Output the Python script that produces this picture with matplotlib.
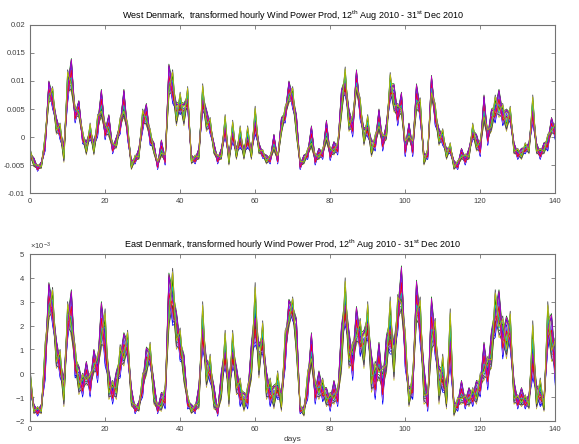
import numpy as np
import matplotlib
matplotlib.use("Agg")
import matplotlib.pyplot as plt
from matplotlib.ticker import FuncFormatter, ScalarFormatter

plt.rcParams['font.family'] = ['Liberation Sans Narrow', 'Liberation Sans', 'DejaVu Sans']
plt.rcParams['mathtext.fontset'] = 'custom'
plt.rcParams['mathtext.rm'] = 'Liberation Sans'

# centre of the band of hourly lines and its half width, read per day (x 1e-3)
west_mid = [-3, -4.5, -5.5, -5, -1, 8, 7, 2, 1, -3, 9, 11, 4, 5, 0, -2, 1, -2, 2, 6,
            1, 2, -2, -1, 2, 6, 1, -5, -4, -3, 3, 4, 0, -2, -5, -2, -4, 10, 9, 4,
            6, 4, 7, -4, -4, -3, 7, 3, 2, -2, -4, -3, 2, -4, 1, -3, 0, -3, 0, -3,
            3, -2, -3, -4, -4, -1, -4, 2, 4, 8, 7, 2, -5, -4, -3, 0, -4, -3, -3, 1,
            -3, -2, -2, 6, 10, 3, 2, 10, 5, 0, 2, -2, -1, 3, -1, 1, 9, 7, 4, 6,
            -2, 1, -2, 7, 5, -4, -3, 9, 4, 0, 0, -3, -2, -5, -5, -3, -4, -3, 1, -1,
            -2, 5, 0, 3, 5, 6, 4, 3, 4, -2, -3, -3, -2, -2, 5, -2, -3, -2, -1, 2, 1]
west_half = [1, 0.8, 0.6, 0.6, 1.5, 2, 2, 1.5, 1.5, 1.5, 3, 3, 1.5, 1.5, 1.2, 1.2, 1.5, 1.2, 2, 2.5,
             1.5, 2, 1, 1, 1.5, 2.5, 1.5, 0.8, 0.8, 1, 2, 2, 1.5, 1, 0.8, 1.5, 1, 3, 3, 2,
             2, 2, 2, 0.8, 0.8, 1, 2.5, 2, 1.5, 1, 0.8, 1, 2, 1, 2, 1, 2, 1, 2, 1,
             2.5, 1, 0.8, 0.8, 0.8, 1.5, 0.8, 1.5, 1.5, 2, 2, 2, 0.8, 0.8, 1, 2, 1, 1, 1, 2,
             1.2, 1.2, 1.2, 2.5, 2.5, 2, 2, 2, 2, 1.5, 2, 1.5, 1.5, 2, 1.5, 1.5, 2.5, 2.5, 2, 2,
             1.5, 1.5, 1.5, 2.5, 2, 1, 1, 2, 2, 1.5, 1.5, 1, 1, 0.8, 0.8, 1, 1, 1, 1.5, 1.5,
             1.5, 2.5, 1.5, 2, 2.5, 2.5, 2, 2, 1.5, 1, 1, 1, 1, 1, 2.5, 1, 1, 1, 1.5, 1.5, 1.5]

east_mid = [-0.3, -1.5, -1.6, -1.5, 0.5, 3.0, 2.8, 0.8, 0.4, -0.8, 2.2, 2.5, 0.5, -0.3, -0.5, 0, -0.5, 0.5, 0.2, 2.0,
            1.5, -0.5, -0.8, -0.5, 0.5, 1.0, 1.2, -1.0, -1.5, -1.4, -0.5, 0.5, 0.8, -0.8, -1.5, -1.2, -1.0, 3.0, 3.2, 1.8,
            1.2, 0.2, -1.2, -1.5, -1.5, -1.0, 2.0, 0.0, 0.2, -1.0, -1.6, -0.5, 1.0, -0.8, 1.0, -0.3, -0.8, -1.2, -1.0, 0.5,
            2.5, 0.5, 1.5, -0.5, -0.8, -1.0, -0.5, -1.2, 1.0, 2.5, 2.7, 1.5, -1.5, -1.6, -0.5, 1.0, -0.8, -0.5, -0.7, -1.0,
            -1.2, -0.8, -1.0, 1.0, 3.0, 1.0, 0.5, 2.0, 1.5, 1.0, 2.2, 0.0, -0.3, 0.5, -0.5, 0.8, 2.0, 0.5, 2.5, 3.5,
            1.0, -1.0, -0.5, 3.0, 2.2, -0.5, -1.2, 2.0, 1.5, -0.5, 0.0, -1.0, 1.5, -1.5, -1.3, -0.8, -1.2, -1.0, -1.0, -0.8,
            -0.5, 0.5, 0.0, 1.0, 2.5, 2.5, 1.5, 1.5, 1.8, -0.8, -1.2, -1.0, -1.2, -1.2, 1.0, -1.0, -0.8, -1.3, 2.0, 1.5, 0.5]
east_half = [0.5, 0.2, 0.2, 0.2, 0.8, 0.8, 0.8, 0.6, 0.6, 0.6, 0.8, 1.0, 0.7, 0.6, 0.5, 0.5, 0.5, 0.5, 0.6, 1.0,
             1.2, 0.6, 0.5, 0.6, 0.7, 0.7, 0.6, 0.4, 0.2, 0.2, 0.5, 0.6, 0.5, 0.5, 0.2, 0.4, 0.5, 1.2, 1.2, 0.8,
             0.7, 0.6, 0.3, 0.2, 0.2, 0.5, 1.0, 0.6, 0.6, 0.5, 0.2, 0.6, 0.8, 0.6, 0.8, 0.6, 0.6, 0.4, 0.5, 0.8,
             1.3, 0.7, 0.7, 0.6, 0.6, 0.5, 0.6, 0.4, 0.8, 0.6, 0.5, 0.8, 0.2, 0.2, 0.6, 0.7, 0.5, 0.6, 0.5, 0.4,
             0.4, 0.5, 0.4, 1.0, 1.0, 0.8, 0.8, 0.8, 0.8, 0.8, 0.8, 0.8, 0.8, 0.8, 0.8, 0.8, 1.2, 0.8, 0.8, 1.0,
             0.8, 0.4, 0.6, 0.9, 1.0, 0.8, 0.4, 1.2, 0.8, 0.8, 0.8, 0.5, 1.2, 0.3, 0.3, 0.5, 0.3, 0.4, 0.4, 0.5,
             0.5, 0.8, 0.7, 0.8, 1.0, 1.0, 0.9, 0.9, 0.8, 0.5, 0.3, 0.4, 0.3, 0.3, 1.2, 0.5, 0.6, 0.3, 1.0, 1.0, 1.0]

# relative position of each hourly series inside the band (24 hours),
# one list for even days and one for odd days so the lines cross
hour_pos_a = [-0.9, 0.3, -0.2, 0.8, -0.6, 0.1, 1.0, -0.4, 0.5, -1.0, 0.2, -0.1,
              0.7, -0.7, 0.4, -0.3, 0.9, -0.8, 0.0, 0.6, -0.5, 0.35, -0.15, 0.85]
hour_pos_b = [0.6, -0.7, 0.9, -0.3, 0.2, -1.0, -0.5, 0.8, -0.9, 0.4, 1.0, -0.2,
              -0.6, 0.1, 0.7, -0.8, -0.1, 0.5, 0.85, -0.4, 0.3, -0.15, 0.95, -0.55]

days = np.arange(len(west_mid))
colors = [(0, 0, 1), (0, 0.5, 0), (1, 0, 0), (0, 0.75, 0.75), (0.75, 0, 0.75),
          (0.75, 0.75, 0), (0.25, 0.25, 0.25), (0.6, 0.6, 0.6), (0.6, 0.4, 0.9)]

fig = plt.figure(figsize=(5.79, 4.44), dpi=100)
ax1 = fig.add_axes([0.052, 0.565, 0.907, 0.379])
ax2 = fig.add_axes([0.052, 0.052, 0.907, 0.376])

west_mid = np.array(west_mid) * 1e-3
west_half = np.array(west_half) * 1e-3
east_mid = np.array(east_mid) * 1e-3
east_half = np.array(east_half) * 1e-3
even = days % 2 == 0

for k in range(len(hour_pos_a)):
    pos = np.where(even, hour_pos_a[k], hour_pos_b[k])
    c = colors[k % len(colors)]
    ax1.plot(days, west_mid + west_half * pos, color=c, lw=0.55)
    ax2.plot(days, east_mid + east_half * pos, color=c, lw=0.55)

title_tail = r"transformed hourly Wind Power Prod, 12$^{\rm th}$ Aug 2010 - 31$^{\rm st}$ Dec 2010"
ax1.set_title("West Denmark,  " + title_tail, fontsize=6.5, pad=4)
ax2.set_title("East Denmark, " + title_tail, fontsize=6.5, pad=4)

for ax in (ax1, ax2):
    ax.set_xlim(0, 140)
    ax.set_xticks(range(0, 141, 20))
    ax.tick_params(direction='in', top=True, right=True, labelsize=5.5,
                   length=3, width=0.6, colors='0.45', labelcolor='0.25')
    for s in ax.spines.values():
        s.set_color('0.45')
        s.set_linewidth(0.8)

ax1.set_ylim(-0.01, 0.02)
ax1.set_yticks(np.arange(-0.01, 0.0201, 0.005))
ax1.yaxis.set_major_formatter(FuncFormatter(lambda v, pos: '%g' % round(v, 4)))

ax2.set_ylim(-2e-3, 5e-3)
ax2.set_yticks(np.arange(-2e-3, 5.01e-3, 1e-3))
fmt = ScalarFormatter(useMathText=True)
fmt.set_powerlimits((-2, 2))
ax2.yaxis.set_major_formatter(fmt)
ax2.yaxis.get_offset_text().set_fontsize(5.5)
ax2.yaxis.get_offset_text().set_color('0.25')
ax2.set_xlabel('days', fontsize=6, color='0.25', labelpad=2)

fig.savefig('out.png', dpi=100)
